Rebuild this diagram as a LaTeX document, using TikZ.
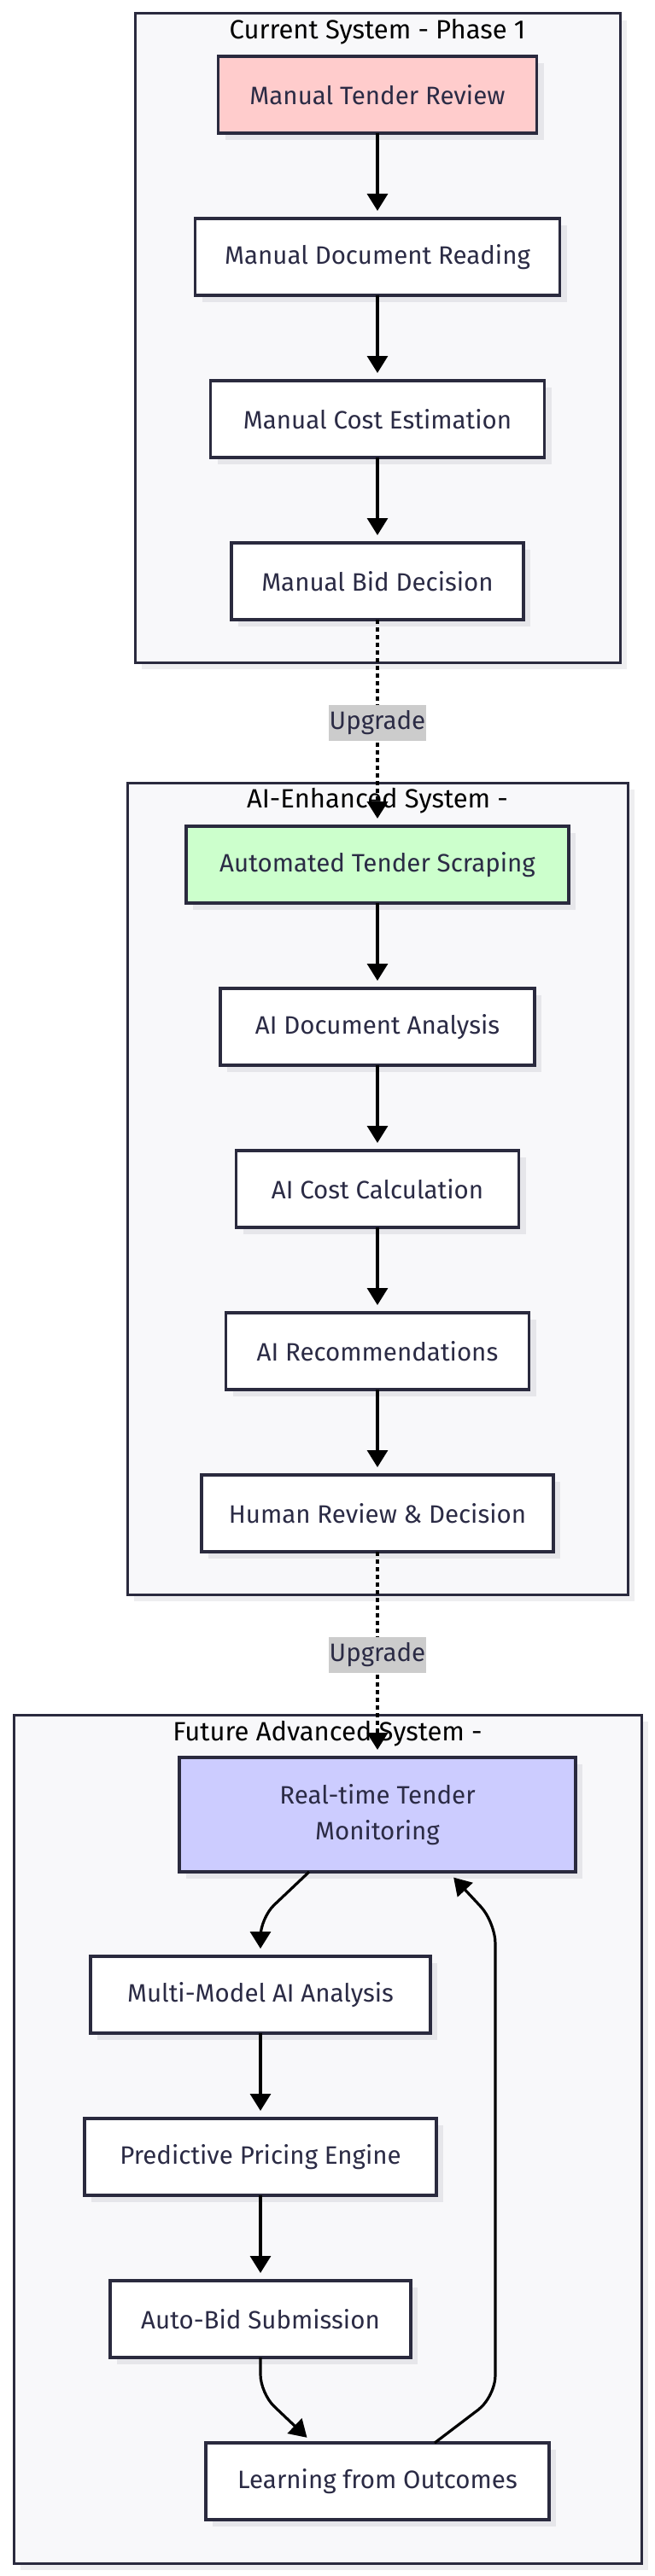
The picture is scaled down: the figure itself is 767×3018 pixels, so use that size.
\documentclass[tikz,border=0pt]{standalone}
\usepackage{fontspec}
\setmainfont{Fira Sans}
\usetikzlibrary{arrows.meta,shadows,calc}
\definecolor{clfill}{HTML}{F8F8FA}
\definecolor{bord}{HTML}{2A2A3E}
\definecolor{ntext}{HTML}{2B2B45}
\definecolor{nshadow}{HTML}{E6E6EA}
\definecolor{cshadow}{HTML}{EEEEF0}
\definecolor{redfill}{HTML}{FFCCCC}
\definecolor{greenfill}{HTML}{CCFFCC}
\definecolor{bluefill}{HTML}{CCCCFF}
\definecolor{lblfill}{HTML}{CCCCCC}
\begin{document}
\begin{tikzpicture}[x=1pt,y=-1pt,
  cluster/.style={draw=bord, line width=3pt, fill=clfill, inner sep=0pt, outer sep=0pt,
    drop shadow={shadow xshift=8pt,shadow yshift=-8pt,fill=cshadow,opacity=1}},
  ctitle/.style={text=black, font=\fontsize{31}{38}\selectfont, inner sep=0pt},
  box/.style={draw=bord, line width=3.5pt, fill=white, text=ntext,
    font=\fontsize{29.5}{42}\selectfont, align=center, inner sep=0pt, outer sep=0pt,
    minimum height=90pt,
    drop shadow={shadow xshift=8pt,shadow yshift=-8pt,fill=nshadow,opacity=1}},
  arr/.style={line width=3.2pt, black, -{Triangle[length=20pt,width=24pt]}, shorten >=9pt},
  upg/.style={arr, line width=3.8pt, dash pattern=on 5pt off 4pt},
  lbl/.style={fill=lblfill, text=ntext, font=\fontsize{29.5}{36}\selectfont, inner sep=0pt,
    minimum width=114pt, minimum height=42pt}
]
\useasboundingbox (0,0) rectangle (767,3018);
% clusters
\node[cluster, minimum width=568pt, minimum height=760pt] (c1) at (442,396) {};
\node[cluster, minimum width=586pt, minimum height=951pt] (c2) at (442,1392.5) {};
\node[cluster, minimum width=735pt, minimum height=994pt] (c3) at (383.5,2506) {};
\node[ctitle] (t1) at (442,37) {Current System - Phase 1};
\node[ctitle] (t2) at (442,938) {AI-Enhanced System -};
\node[ctitle] (t3) at (383.5,2031) {Future Advanced System -};
% phase 1
\node[box, fill=redfill, minimum width=373pt] (n1) at (442,111) {Manual Tender Review};
\node[box, minimum width=427pt] (n2) at (442,301) {Manual Document Reading};
\node[box, minimum width=391pt] (n3) at (442,491) {Manual Cost Estimation};
\node[box, minimum width=342pt] (n4) at (442,681) {Manual Bid Decision};
% phase 2
\node[box, fill=greenfill, minimum width=448pt] (n5) at (442,1013) {Automated Tender Scraping};
\node[box, minimum width=368pt] (n6) at (442,1203) {AI Document Analysis};
\node[box, minimum width=331pt] (n7) at (442,1393) {AI Cost Calculation};
\node[box, minimum width=355pt] (n8) at (442,1583) {AI Recommendations};
\node[box, minimum width=412pt] (n9) at (442,1773) {Human Review \& Decision};
% phase 3
\node[box, fill=bluefill, minimum width=464pt, minimum height=134pt] (n10) at (442,2126) {Real-time Tender\\Monitoring};
\node[box, minimum width=398pt] (n11) at (305,2337) {Multi-Model AI Analysis};
\node[box, minimum width=412pt] (n12) at (305,2527) {Predictive Pricing Engine};
\node[box, minimum width=352pt] (n13) at (305,2717) {Auto-Bid Submission};
\node[box, minimum width=402pt] (n14) at (442,2907) {Learning from Outcomes};
% edges
\draw[arr] (n1) -- (n2);
\draw[arr] (n2) -- (n3);
\draw[arr] (n3) -- (n4);
\draw[upg] (n4.south) -- node[lbl] (u1) {Upgrade} (n5.north);
\draw[arr] (n5) -- (n6);
\draw[arr] (n6) -- (n7);
\draw[arr] (n7) -- (n8);
\draw[arr] (n8) -- (n9);
\draw[upg] (n9.south) -- node[lbl] (u2) {Upgrade} (n10.north);
\draw[arr, rounded corners=22pt] ($(n10.south)+(-80,0)$) -- ($(n11.north)+(0,-45)$) -- (n11.north);
\draw[arr] (n11) -- (n12);
\draw[arr] (n12) -- (n13);
\draw[arr, rounded corners=22pt] (n13.south) -- ($(n13.south)+(0,42)$) -- ($(n14.north west)+(125,0)$);
\draw[arr, rounded corners=25pt] ($(n14.north west)+(268,0)$) -- ($(n14.north west)+(339,-54)$) -- ($(n10.south)+(138,59)$) -- ($(n10.south)+(83,0)$);
\end{tikzpicture}
\end{document}
